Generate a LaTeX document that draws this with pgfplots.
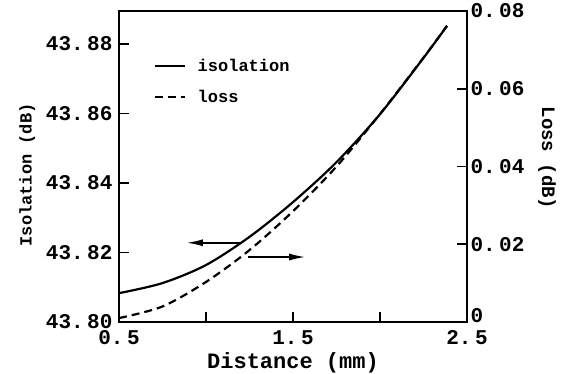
\documentclass[border=0pt]{standalone}
\usepackage{fontspec}
\setmainfont{Liberation Mono}
\usepackage{pgfplots}
\pgfplotsset{compat=1.18}
\usetikzlibrary{arrows.meta}
\pgfplotstableread{
d I
0.5 43.8083
0.75 43.8112
1.0 43.8164
1.25 43.8245
1.5 43.8345
1.75 43.8460
2.0 43.8598
2.25 43.8760
2.385 43.8852
}\isotable
\pgfplotstableread{
d L
0.5 0.0010
0.75 0.0040
1.0 0.0103
1.25 0.0185
1.5 0.0285
1.75 0.0400
2.0 0.0535
2.25 0.0680
2.385 0.0762
}\losstable
\begin{document}
\begin{tikzpicture}
\useasboundingbox (-119pt,-52pt) rectangle (448pt,322pt);
\pgfplotsset{
  common/.style={
    at={(0pt,0pt)}, anchor=south west,
    scale only axis, width=348pt, height=311pt,
    xmin=0.5, xmax=2.5,
    scaled x ticks=false, scaled y ticks=false,
    tick align=inside, major tick length=10pt,
    axis line style={line width=1.8pt},
    tick style={line width=1.6pt, black},
    ticklabel style={font=\fontsize{21}{21}\selectfont\bfseries},
  }
}
\begin{axis}[common,
  ymin=43.80, ymax=43.8895,
  xtick pos=bottom, ytick pos=left,
  xtick={0.5,1,1.5,2,2.5}, xticklabels={{0.\,5},{},{1.\,5},{},{2.\,5}},
  ytick={43.80,43.82,43.84,43.86,43.88},
  yticklabels={{43.\,80},{43.\,82},{43.\,84},{43.\,86},{43.\,88}},
  yticklabel style={xshift=-3pt},
  xticklabel style={yshift=-5pt},
  xlabel={Distance (mm)}, ylabel={Isolation (dB)},
  xlabel style={at={(axis description cs:0.5,-0.13)}, anchor=center, font=\fontsize{22}{22}\selectfont\bfseries},
  ylabel style={at={(axis description cs:-0.264,0.473)}, anchor=center, font=\fontsize{17}{17}\selectfont\bfseries},
  legend style={draw=none, fill=none, at={(axis description cs:0.09,0.858)}, anchor=north west,
    font=\fontsize{17}{17}\selectfont\bfseries, row sep=13pt},
  legend cell align=left,
  legend image code/.code={\draw[#1] (0pt,0pt) -- (30pt,0pt); \path (40pt,0pt);},
]
\addplot[black, line width=2.2pt, smooth] table[x=d, y=I] {\isotable};
\addlegendentry{isolation}
\addlegendimage{black, line width=2.2pt, dash pattern=on 8pt off 5pt}
\addlegendentry{loss}
\draw[line width=1.5pt, -{Latex[length=16pt,width=7pt]}] (axis cs:1.195,43.8228) -- (axis cs:0.89,43.8228);
\draw[line width=1.5pt, -{Latex[length=16pt,width=7pt]}] (axis cs:1.24,43.8187) -- (axis cs:1.57,43.8187);
\end{axis}
\begin{axis}[common,
  ymin=0, ymax=0.08,
  axis x line=none, axis y line*=right, ytick pos=right,
  ytick={0.02,0.04,0.06,0.08},
  yticklabels={{0.\,02},{0.\,04},{0.\,06},{0.\,08}},
  extra y ticks={0}, extra y tick labels={0},
  extra y tick style={yticklabel style={yshift=6pt}},
  ylabel={Loss (dB)},
  ylabel style={at={(axis description cs:1.230,0.527)}, anchor=center, rotate=180, font=\fontsize{19}{19}\selectfont\bfseries},
]
\addplot[black, line width=2.2pt, dash pattern=on 8pt off 5pt, smooth] table[x=d, y=L] {\losstable};
\end{axis}
\end{tikzpicture}
\end{document}
